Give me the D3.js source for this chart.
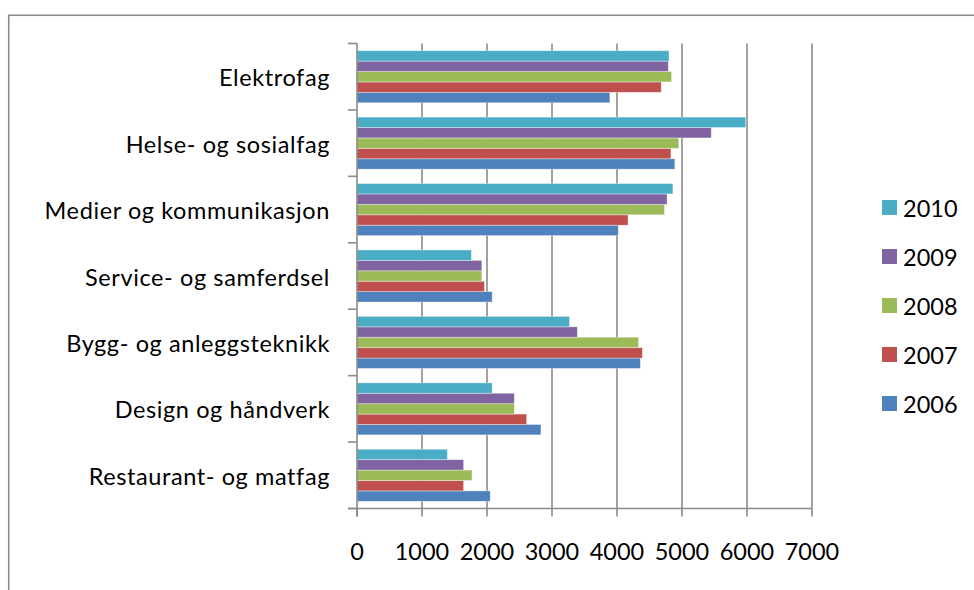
<!DOCTYPE html>
<html>
<head>
<meta charset="utf-8">
<script src="https://cdn.jsdelivr.net/npm/d3@7"></script>
<style>
  html, body { margin: 0; padding: 0; background: #fff; }
  svg { display: block; }
  text { font-family: Lato, "Open Sans", sans-serif; fill: #000; }
</style>
</head>
<body>
<svg id="chart" width="974" height="590"></svg>
<script>
// ---- data ----
const categories = [
  "Elektrofag",
  "Helse- og sosialfag",
  "Medier og kommunikasjon",
  "Service- og samferdsel",
  "Bygg- og anleggsteknikk",
  "Design og håndverk",
  "Restaurant- og matfag"
];
const years = ["2006", "2007", "2008", "2009", "2010"];
const v2006 = [3890, 4890, 4020, 2080, 4360, 2830, 2050];
const v2007 = [4680, 4830, 4170, 1960, 4390, 2610, 1640];
const v2008 = [4840, 4950, 4730, 1920, 4330, 2420, 1770];
const v2009 = [4790, 5450, 4770, 1920, 3390, 2420, 1640];
const v2010 = [4800, 5980, 4860, 1760, 3270, 2080, 1390];
const xTicks = [0, 1000, 2000, 3000, 4000, 5000, 6000, 7000];

// ---- styles ----
const seriesValues = { "2006": v2006, "2007": v2007, "2008": v2008, "2009": v2009, "2010": v2010 };
const colors = { "2006": "#4F81BD", "2007": "#C0504D", "2008": "#9BBB59", "2009": "#8064A2", "2010": "#4BACC6" };
const gridColor = "#8a8a8a";
const fontSize = 23.5;

const svg = d3.select("#chart");

// outer frame
svg.append("rect")
  .attr("x", 8.75).attr("y", 15.25)
  .attr("width", 1100).attr("height", 1100)
  .attr("fill", "#fff").attr("stroke", "#8c8c8c").attr("stroke-width", 1.6);

const pLeft = 357, pRight = 812, pTop = 43.5, pBottom = 508.5;

const x = d3.scaleLinear().domain([0, 7000]).range([pLeft, pRight]);
const y = d3.scaleBand().domain(categories).range([pTop, pBottom]).padding(0);
const yInner = d3.scaleBand().domain(years.slice().reverse())
  .range([0, y.bandwidth()]).paddingInner(0).paddingOuter(0.69);

// gridlines
svg.append("g").selectAll("line")
  .data(xTicks.filter(d => d > 0))
  .join("line")
  .attr("x1", d => x(d)).attr("x2", d => x(d))
  .attr("y1", pTop).attr("y2", pBottom)
  .attr("stroke", gridColor).attr("stroke-width", 1.6);

// bars
const gCat = svg.append("g").selectAll("g")
  .data(categories)
  .join("g")
  .attr("transform", d => `translate(0,${y(d)})`);

gCat.selectAll("rect")
  .data((c, i) => years.map(yr => ({ yr, v: seriesValues[yr][i] })))
  .join("rect")
  .attr("x", x(0))
  .attr("y", d => yInner(d.yr))
  .attr("width", d => x(d.v) - x(0))
  .attr("height", yInner.bandwidth())
  .attr("fill", d => colors[d.yr])
  .attr("stroke", "rgba(255,255,255,0.45)")
  .attr("stroke-width", 0.8);

// y axis
const yAxis = svg.append("g");
yAxis.append("line")
  .attr("x1", pLeft).attr("x2", pLeft).attr("y1", pTop).attr("y2", pBottom + 8)
  .attr("stroke", gridColor).attr("stroke-width", 1.6);
const boundaries = categories.map(c => y(c)).concat([pBottom]);
yAxis.selectAll("line.tick")
  .data(boundaries)
  .join("line").attr("class", "tick")
  .attr("x1", pLeft - 9).attr("x2", pLeft)
  .attr("y1", d => d).attr("y2", d => d)
  .attr("stroke", gridColor).attr("stroke-width", 1.6);
yAxis.selectAll("text")
  .data(categories)
  .join("text")
  .attr("x", 330)
  .attr("y", d => y(d) + y.bandwidth() / 2 + 9.5)
  .attr("text-anchor", "end")
  .attr("font-size", fontSize)
  .attr("letter-spacing", 0.6)
  .text(d => d);

// x axis
const xAxis = svg.append("g");
xAxis.append("line")
  .attr("x1", pLeft - 9).attr("x2", pRight).attr("y1", pBottom).attr("y2", pBottom)
  .attr("stroke", gridColor).attr("stroke-width", 1.6);
xAxis.selectAll("line.tick")
  .data(xTicks)
  .join("line").attr("class", "tick")
  .attr("x1", d => x(d)).attr("x2", d => x(d))
  .attr("y1", pBottom).attr("y2", pBottom + 8)
  .attr("stroke", gridColor).attr("stroke-width", 1.6);
xAxis.selectAll("text")
  .data(xTicks)
  .join("text")
  .attr("x", d => x(d))
  .attr("y", 560)
  .attr("text-anchor", "middle")
  .attr("font-size", fontSize)
  .text(d => d);

// legend
const legendYears = years.slice().reverse();
const legend = svg.append("g").selectAll("g")
  .data(legendYears)
  .join("g")
  .attr("transform", (d, i) => `translate(882,${207.5 + i * 49})`);
legend.append("rect")
  .attr("x", 0).attr("y", -7.5).attr("width", 15).attr("height", 15)
  .attr("fill", d => colors[d]);
legend.append("text")
  .attr("x", 21).attr("y", 9)
  .attr("font-size", fontSize)
  .text(d => d);
</script>
</body>
</html>
